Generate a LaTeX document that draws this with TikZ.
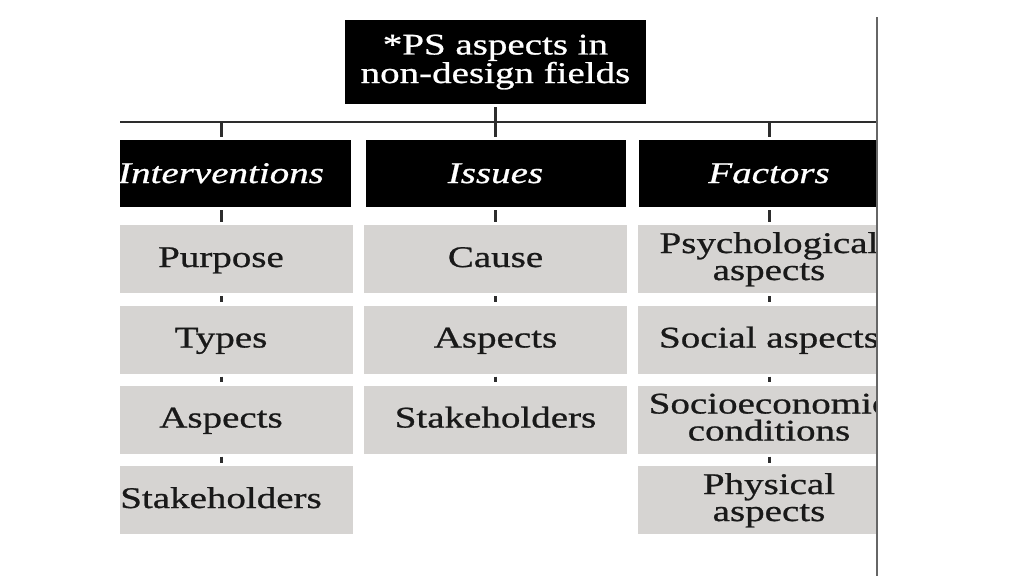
\documentclass[tikz,border=0pt]{standalone}
\usepackage{fontspec}
\setmainfont[FakeStretch=1.3,FakeBold=0.8]{Liberation Serif}
\definecolor{boxgray}{RGB}{214,212,210}
\definecolor{linegray}{RGB}{45,45,45}
\begin{document}
\begin{tikzpicture}[x=1pt,y=-1pt,
  topbox/.style={fill=black,text=white,minimum width=301pt,minimum height=84pt,inner sep=0pt,align=center,font=\fontsize{30}{26}\selectfont,text height=46pt,text depth=4pt},
  headbox/.style={fill=black,text=white,minimum width=260pt,minimum height=67pt,inner sep=0pt,font=\fontsize{30}{27}\selectfont\itshape,text height=20pt,text depth=1pt},
  itembox/.style={fill=boxgray,text=black!90,minimum width=263pt,minimum height=68pt,inner sep=0pt,align=center,font=\fontsize{30}{27}\selectfont},
  oneline/.style={text height=20pt,text depth=4pt},
  twoline/.style={text height=47pt,text depth=5pt},
  conn/.style={draw=linegray,line width=3pt,shorten <=3pt,shorten >=3pt},
  busline/.style={draw=linegray,line width=2.5pt},
  frameline/.style={draw=black!60,line width=1.2pt}]
\useasboundingbox (0,0) rectangle (1024,576);
\fill[white] (0,0) rectangle (1024,576);
\begin{scope}
\clip (120,0) rectangle (877,576);
\node[topbox] (top) at (495.5,62) {*PS aspects in\\non-design fields};
\coordinate (busL) at (100,122);
\coordinate (busR) at (900,122);
% headers
\node[headbox] (intv) at (221,173.5) {Interventions};
\node[headbox] (iss) at (495.5,173.5) {Issues};
\node[headbox] (fac) at (769,173.5) {Factors};
% left column
\node[itembox,oneline] (i1) at (221,259) {Purpose};
\node[itembox,oneline] (i2) at (221,339.5) {Types};
\node[itembox,oneline] (i3) at (221,419.5) {Aspects};
\node[itembox,oneline] (i4) at (221,500) {Stakeholders};
% middle column
\node[itembox,oneline] (s1) at (495.5,259) {Cause};
\node[itembox,oneline] (s2) at (495.5,339.5) {Aspects};
\node[itembox,oneline] (s3) at (495.5,419.5) {Stakeholders};
% right column
\node[itembox,twoline] (f1) at (769,259) {Psychological\\aspects};
\node[itembox,oneline] (f2) at (769,339.5) {Social aspects};
\node[itembox,twoline] (f3) at (769,419.5) {Socioeconomic\\conditions};
\node[itembox,twoline] (f4) at (769,500) {Physical\\aspects};
% connectors
\draw[busline] (busL) -- (busR);
\draw[conn] (top) -- (iss);
\draw[conn,shorten <=0pt] (intv.north |- busL) -- (intv);
\draw[conn,shorten <=0pt] (fac.north |- busL) -- (fac);
\draw[conn] (intv) -- (i1);
\draw[conn] (i1) -- (i2);
\draw[conn] (i2) -- (i3);
\draw[conn] (i3) -- (i4);
\draw[conn] (iss) -- (s1);
\draw[conn] (s1) -- (s2);
\draw[conn] (s2) -- (s3);
\draw[conn] (fac) -- (f1);
\draw[conn] (f1) -- (f2);
\draw[conn] (f2) -- (f3);
\draw[conn] (f3) -- (f4);
\end{scope}
\coordinate (frT) at (877,17);
\coordinate (frB) at (877,576);
\draw[frameline] (frT) -- (frB);
\end{tikzpicture}
\end{document}
